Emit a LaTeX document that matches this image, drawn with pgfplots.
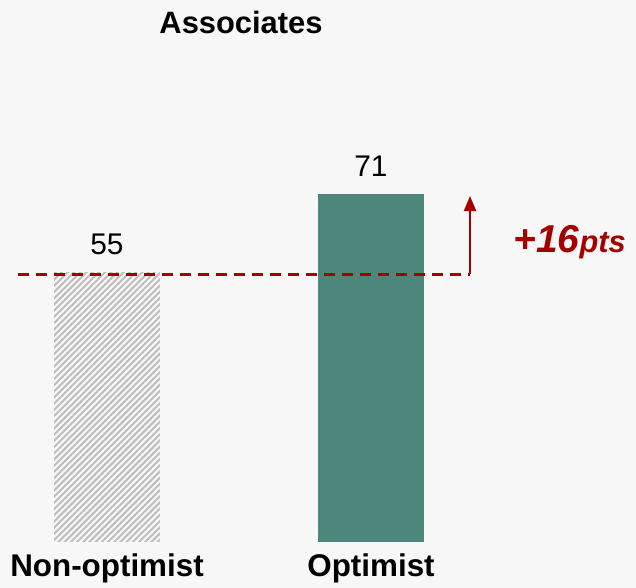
\documentclass[border=0pt]{standalone}
\usepackage{pgfplots}
\pgfplotsset{compat=1.18}
\usepackage{fontspec}
\setmainfont{Liberation Sans}
\usetikzlibrary{patterns.meta,arrows.meta}
\definecolor{bgcol}{HTML}{F7F7F7}
\definecolor{tealbar}{HTML}{4D877B}
\definecolor{hatch}{HTML}{BDBDBD}
\definecolor{darkred}{HTML}{A50000}

\begin{document}
\begin{tikzpicture}
% background of the slide
\fill[bgcol] (0,-46bp) rectangle (636bp,542bp);
\begin{axis}[
    at={(0,0)}, anchor=south west,
    scale only axis,
    width=636bp, height=542bp,
    xmin=-0.4053, xmax=2.0038,
    ymin=0, ymax=110.6,
    axis line style={draw=none},
    ytick=\empty,
    xtick={0,1},
    xticklabels={Non-optimist,Optimist},
    major tick length=0pt,
    xticklabel style={font=\fontsize{31.5}{36}\selectfont\bfseries, yshift=-8bp},
    ybar, bar width=0.4015, bar shift=0pt,
    clip=false,
    /pgf/number format/assume math mode=true,
    nodes near coords,
    every node near coord/.append style={font=\fontsize{30}{35}\selectfont, anchor=south, yshift=14bp},
]
\addplot[draw=none, pattern={Lines[angle=45,distance=4.4pt,line width=2pt]}, pattern color=hatch]
    coordinates {(0,55)};
\addplot[draw=none, fill=tealbar] coordinates {(1,71)};

% reference line and difference arrow
\draw[darkred, line width=2.4bp, dash pattern=on 11bp off 7bp] (axis cs:-0.337,54.6) -- (axis cs:1.375,54.6);
\draw[darkred, line width=2bp, -{Triangle[length=15bp,width=12bp]}] (axis cs:1.375,54.6) -- (axis cs:1.375,70.6);
\node[darkred, font=\bfseries\itshape, anchor=center] at (axis cs:1.753,61.2)
    {\fontsize{39}{44}\selectfont +16\fontsize{31}{34}\selectfont pts};

\node[font=\fontsize{31}{36}\selectfont\bfseries] at (axis cs:0.5076,106.1) {Associates};
\end{axis}
\pgfresetboundingbox
\useasboundingbox (0,-46bp) rectangle (636bp,542bp);
\end{tikzpicture}
\end{document}
